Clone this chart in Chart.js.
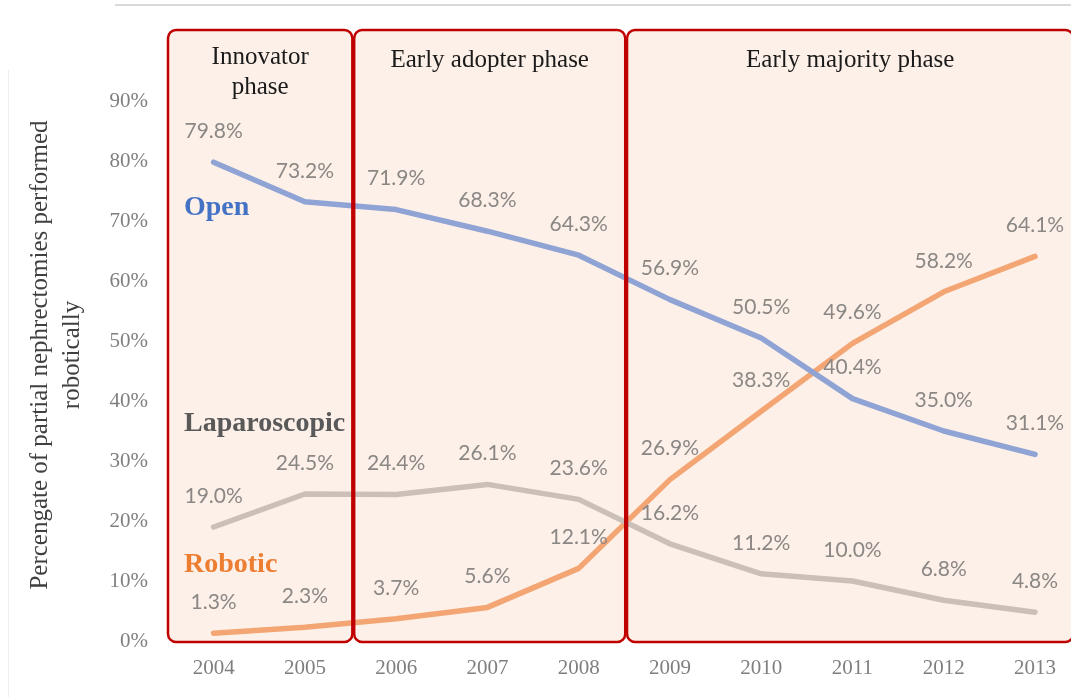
<!DOCTYPE html>
<html>
<head>
<meta charset="utf-8">
<title>Partial nephrectomy approach by year</title>
<script src="https://cdn.jsdelivr.net/npm/chart.js@4.4.1/dist/chart.umd.min.js"></script>
<style>
  html, body { margin: 0; padding: 0; background: #fff; }
  #wrap { width: 1071px; height: 697px; position: relative; }
</style>
</head>
<body>
<div id="wrap"><canvas id="chart"></canvas></div>
<script>
const years = [2004, 2005, 2006, 2007, 2008, 2009, 2010, 2011, 2012, 2013];
const openValues = [79.8, 73.2, 71.9, 68.3, 64.3, 56.9, 50.5, 40.4, 35.0, 31.1];
const laparoscopicValues = [19.0, 24.5, 24.4, 26.1, 23.6, 16.2, 11.2, 10.0, 6.8, 4.8];
const roboticValues = [1.3, 2.3, 3.7, 5.6, 12.1, 26.9, 38.3, 49.6, 58.2, 64.1];
const yTicks = [0, 10, 20, 30, 40, 50, 60, 70, 80, 90];

// phases, in years along the x axis
const phaseNames = [['Innovator', 'phase'], ['Early adopter phase'], ['Early majority phase']];
const phaseStarts = [2003.5, 2005.54, 2008.53];
const phaseEnds = [2005.52, 2008.51, 2013.42];

// series names written inside the first box
const seriesTags = [
  { text: 'Open', color: '#4472c4', y: 72.2 },
  { text: 'Laparoscopic', color: '#595959', y: 36.2 },
  { text: 'Robotic', color: '#ed7d31', y: 12.7 },
];

const toPoints = vals => vals.map((v, i) => ({ x: years[i], y: v }));

function roundedBox(ctx, x, y, w, h, r) {
  ctx.beginPath();
  ctx.moveTo(x + r, y);
  ctx.arcTo(x + w, y, x + w, y + h, r);
  ctx.arcTo(x + w, y + h, x, y + h, r);
  ctx.arcTo(x, y + h, x, y, r);
  ctx.arcTo(x, y, x + w, y, r);
  ctx.closePath();
}

function boxGeometry(chart, i) {
  const { chartArea, scales: { x, y } } = chart;
  const top = chartArea.top - 71;
  const bottom = y.getPixelForValue(0) + 1;
  const left = x.getPixelForValue(phaseStarts[i]);
  const right = x.getPixelForValue(phaseEnds[i]);
  return { left, right, top, bottom };
}

const phaseBoxes = {
  id: 'phaseBoxes',
  beforeDraw(chart) {
    const ctx = chart.ctx;
    ctx.save();
    ctx.fillStyle = '#fff';
    ctx.fillRect(0, 0, chart.width, chart.height);
    // frame remnants of the slide
    ctx.strokeStyle = '#d9d9d9';
    ctx.lineWidth = 2;
    ctx.beginPath();
    ctx.moveTo(115, 5);
    ctx.lineTo(chart.width, 5);
    ctx.stroke();
    ctx.strokeStyle = '#eeeeee';
    ctx.lineWidth = 1;
    ctx.beginPath();
    ctx.moveTo(8.5, 70);
    ctx.lineTo(8.5, chart.height);
    ctx.stroke();
    ctx.restore();
  },
  beforeDatasetsDraw(chart) {
    const ctx = chart.ctx;
    ctx.save();
    phaseStarts.forEach((s, i) => {
      const b = boxGeometry(chart, i);
      roundedBox(ctx, b.left, b.top, b.right - b.left, b.bottom - b.top, 8);
      ctx.fillStyle = '#fdf0e8';
      ctx.fill();

      ctx.fillStyle = '#1a1a1a';
      ctx.font = '25px "Liberation Serif"';
      ctx.textAlign = 'center';
      ctx.textBaseline = 'middle';
      const cx = (b.left + b.right) / 2;
      const lines = phaseNames[i];
      const firstY = lines.length > 1 ? b.top + 27 : b.top + 30;
      lines.forEach((t, k) => ctx.fillText(t, cx, firstY + k * 30));
    });

    // y axis title
    ctx.translate(40, 355);
    ctx.rotate(-Math.PI / 2);
    ctx.fillStyle = '#404040';
    ctx.font = '25px "Liberation Serif"';
    ctx.textAlign = 'center';
    ctx.textBaseline = 'middle';
    ctx.fillText('Percengate of partial nephrectomies performed', 0, 0);
    ctx.fillText('robotically', 0, 32);
    ctx.restore();
  },
  afterDatasetsDraw(chart) {
    const { ctx, scales: { x, y } } = chart;
    ctx.save();
    // box outlines sit on top of the lines
    phaseStarts.forEach((s, i) => {
      const b = boxGeometry(chart, i);
      roundedBox(ctx, b.left, b.top, b.right - b.left, b.bottom - b.top, 8);
      ctx.lineWidth = 2.5;
      ctx.strokeStyle = '#c00000';
      ctx.stroke();
    });

    ctx.font = '21px Lato';
    ctx.fillStyle = '#8a8785';
    ctx.textAlign = 'center';
    ctx.textBaseline = 'middle';
    chart.data.datasets.forEach((ds, di) => {
      chart.getDatasetMeta(di).data.forEach((pt, i) => {
        ctx.fillText(ds.data[i].y.toFixed(1) + '%', pt.x, pt.y - 31);
      });
    });

    ctx.font = 'bold 28px "Liberation Serif"';
    ctx.textAlign = 'left';
    seriesTags.forEach(tag => {
      ctx.fillStyle = tag.color;
      ctx.fillText(tag.text, x.getPixelForValue(phaseStarts[0]) + 16, y.getPixelForValue(tag.y));
    });
    ctx.restore();
  }
};

const lineStyle = {
  borderWidth: 5.5,
  pointRadius: 0,
  tension: 0,
  borderJoinStyle: 'round',
  borderCapStyle: 'round',
  fill: false,
};

new Chart(document.getElementById('chart'), {
  type: 'line',
  data: {
    datasets: [
      { label: 'Open', data: toPoints(openValues), borderColor: '#8fa4d4', ...lineStyle },
      { label: 'Laparoscopic', data: toPoints(laparoscopicValues), borderColor: '#cbc0b9', ...lineStyle },
      { label: 'Robotic', data: toPoints(roboticValues), borderColor: '#f3a673', ...lineStyle },
    ],
  },
  options: {
    responsive: true,
    maintainAspectRatio: false,
    animation: false,
    layout: { padding: { top: 101, right: 0, bottom: 0, left: 0 } },
    plugins: {
      legend: { display: false },
      tooltip: { enabled: false },
    },
    scales: {
      x: {
        type: 'linear',
        min: 2003.5,
        max: 2013.37,
        grid: { display: false, drawTicks: false },
        border: { display: false },
        afterBuildTicks: s => { s.ticks = years.map(v => ({ value: v })); },
        afterFit: s => { s.height = 56; },
        ticks: {
          autoSkip: false,
          maxRotation: 0,
          padding: 15,
          color: '#7f7f7f',
          font: { family: 'Liberation Serif', size: 21 },
          callback: v => String(v),
        },
      },
      y: {
        min: 0,
        max: 90,
        grid: { display: false, drawTicks: false },
        border: { display: false },
        afterBuildTicks: s => { s.ticks = yTicks.map(v => ({ value: v })); },
        afterFit: s => { s.width = 168; },
        ticks: {
          padding: 20,
          color: '#7f7f7f',
          font: { family: 'Liberation Serif', size: 21 },
          callback: v => v + '%',
        },
      },
    },
  },
  plugins: [phaseBoxes],
});
</script>
</body>
</html>
